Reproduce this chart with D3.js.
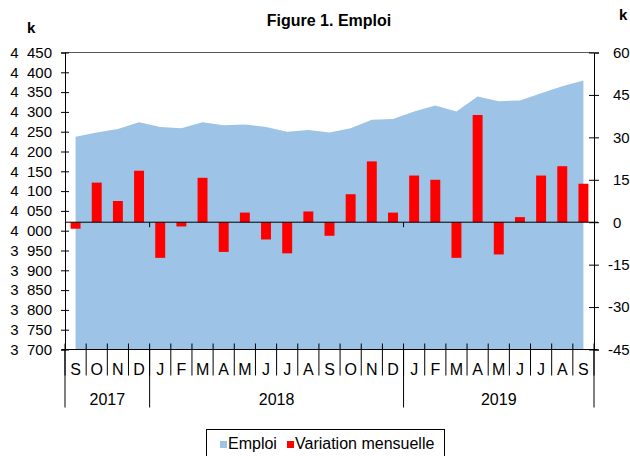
<!DOCTYPE html>
<html>
<head>
<meta charset="utf-8">
<script src="https://cdn.jsdelivr.net/npm/d3@7"></script>
<style>
    body { margin: 0; background: #fff; }
    svg text { font-family: "Liberation Sans", Arial, sans-serif; fill: #000; }
</style>
</head>
<body>
<script>
// monthly periods, Sep 2017 -> Sep 2019
var periods = ["2017-09", "2017-10", "2017-11", "2017-12",
    "2018-01", "2018-02", "2018-03", "2018-04", "2018-05", "2018-06",
    "2018-07", "2018-08", "2018-09", "2018-10", "2018-11", "2018-12",
    "2019-01", "2019-02", "2019-03", "2019-04", "2019-05", "2019-06",
    "2019-07", "2019-08", "2019-09"];
var monthLabels = ["S", "O", "N", "D", "J", "F", "M", "A", "M", "J", "J", "A",
    "S", "O", "N", "D", "J", "F", "M", "A", "M", "J", "J", "A", "S"];
var years = ["2017", "2018", "2019"];
var yearMonths = [4, 12, 9];

// employment level (k), left axis
var emploi = [4237, 4248, 4257, 4274, 4262, 4259, 4274, 4266, 4268, 4262, 4250, 4254,
    4248, 4259, 4280, 4282, 4301, 4316, 4301, 4339, 4327, 4329, 4347, 4365, 4379];
// monthly change (k), right axis
var variation = [-2.3, 14.0, 7.5, 18.2, -12.6, -1.5, 15.7, -10.5, 3.4, -6.1, -11.0, 3.8,
    -4.8, 9.9, 21.5, 3.4, 16.5, 15.0, -12.6, 37.9, -11.4, 1.8, 16.5, 19.8, 13.6];

var leftTicks = [3700, 3750, 3800, 3850, 3900, 3950, 4000, 4050, 4100, 4150, 4200, 4250, 4300, 4350, 4400, 4450];
var rightTicks = [-45, -30, -15, 0, 15, 30, 45, 60];

// plot box (window.top is reserved, so use other names)
var pl = 65, pr = 594, pt = 52.5, pb = 349.5;

var svg = d3.select("body").append("svg")
    .attr("width", 630)
    .attr("height", 456);

var x = d3.scaleBand().domain(periods).range([pl, pr]);
var yL = d3.scaleLinear().domain([3700, 4450]).range([pb, pt]);
var yR = d3.scaleLinear().domain([-45, 60]).range([pb, pt]);

// area for Emploi
var area = d3.area()
    .x(function (d, i) { return x(periods[i]) + x.bandwidth() / 2; })
    .y0(yL(3700))
    .y1(function (d) { return yL(d); });

svg.append("path")
    .datum(emploi)
    .attr("fill", "#9dc3e6")
    .attr("d", area);

// top border
svg.append("line")
    .attr("x1", pl).attr("x2", pr)
    .attr("y1", pt).attr("y2", pt)
    .attr("stroke", "#595959");

// bars for Variation mensuelle
var barW = x.bandwidth() * 0.47;
svg.selectAll("rect.bar")
    .data(variation)
    .enter().append("rect")
    .attr("class", "bar")
    .attr("x", function (d, i) { return x(periods[i]) + (x.bandwidth() - barW) / 2; })
    .attr("y", function (d) { return yR(Math.max(0, d)); })
    .attr("width", barW)
    .attr("height", function (d) { return Math.abs(yR(d) - yR(0)); })
    .attr("fill", "#ff0000");

// zero line of the right axis
svg.append("line")
    .attr("x1", pl).attr("x2", pr + 4)
    .attr("y1", yR(0)).attr("y2", yR(0))
    .attr("stroke", "#000");

// year boundaries (used for small ticks + bottom separators)
var bounds = [0];
yearMonths.forEach(function (n, i) { bounds.push(bounds[i] + n); });
var boundX = bounds.map(function (b) { return b < periods.length ? x(periods[b]) : pr; });

svg.selectAll("line.zt")
    .data(boundX.slice(1, -1))
    .enter().append("line")
    .attr("class", "zt")
    .attr("x1", function (d) { return d; }).attr("x2", function (d) { return d; })
    .attr("y1", yR(0)).attr("y2", yR(0) + 5)
    .attr("stroke", "#000");

// left axis
var fmt = function (d) { return d3.format(",")(d).replace(",", "\u2007"); };
var gL = svg.append("g")
    .attr("transform", "translate(" + pl + ",0)")
    .call(d3.axisLeft(yL).tickValues(leftTicks).tickFormat(fmt).tickSize(4).tickPadding(9));
gL.selectAll(".tick line").attr("x1", 4);
gL.selectAll("text").style("font-size", "15px");

// right axis (plain hyphen for negatives, hung left of the digits)
var gR = svg.append("g")
    .attr("transform", "translate(" + pr + ",0)")
    .call(d3.axisRight(yR).tickValues(rightTicks)
        .tickFormat(function (d) { return String(d); })
        .tickSize(5).tickPadding(14));
gR.selectAll(".tick line").attr("x1", -5);
gR.selectAll("text")
    .style("font-size", "15px")
    .attr("dx", function (d) { return d < 0 ? -5 : 0; });

svg.selectAll(".domain").attr("stroke", "#000");
svg.selectAll(".tick line").attr("stroke", "#000");

// bottom category axis
var gB = svg.append("g")
    .attr("transform", "translate(0," + pb + ")");
gB.append("line")
    .attr("x1", pl - 3).attr("x2", pr + 3)
    .attr("stroke", "#000");

var allX = periods.map(function (p) { return x(p); }).concat([pr]);
gB.selectAll("line.up")
    .data(allX)
    .enter().append("line")
    .attr("class", "up")
    .attr("x1", function (d) { return d; }).attr("x2", function (d) { return d; })
    .attr("y1", -6).attr("y2", 26)
    .attr("stroke", "#000");

gB.selectAll("line.yr")
    .data(boundX)
    .enter().append("line")
    .attr("class", "yr")
    .attr("x1", function (d) { return d; }).attr("x2", function (d) { return d; })
    .attr("y1", 0).attr("y2", 58)
    .attr("stroke", "#000");

gB.selectAll("text.m")
    .data(monthLabels)
    .enter().append("text")
    .attr("class", "m")
    .attr("x", function (d, i) { return x(periods[i]) + x.bandwidth() / 2; })
    .attr("y", 25.5)
    .attr("text-anchor", "middle")
    .style("font-size", "16px")
    .text(function (d) { return d; });

gB.selectAll("text.y")
    .data(years)
    .enter().append("text")
    .attr("class", "y")
    .attr("x", function (d, i) { return (boundX[i] + boundX[i + 1]) / 2; })
    .attr("y", 55.5)
    .attr("text-anchor", "middle")
    .style("font-size", "16px")
    .text(function (d) { return d; });

// title and unit labels
svg.append("text")
    .attr("x", 329).attr("y", 26)
    .attr("text-anchor", "middle")
    .style("font-size", "16px").style("font-weight", "bold")
    .text("Figure 1. Emploi");
svg.append("text")
    .attr("x", 27).attr("y", 33)
    .style("font-size", "15px").style("font-weight", "bold")
    .text("k");
svg.append("text")
    .attr("x", 619).attr("y", 20)
    .style("font-size", "15px").style("font-weight", "bold")
    .text("k");

// legend
var leg = svg.append("g");
leg.append("rect")
    .attr("x", 206.5).attr("y", 429.5)
    .attr("width", 238).attr("height", 40)
    .attr("fill", "#fff").attr("stroke", "#000");
leg.append("rect")
    .attr("x", 220).attr("y", 441)
    .attr("width", 7).attr("height", 7)
    .attr("fill", "#9dc3e6");
leg.append("text")
    .attr("x", 228).attr("y", 448.5)
    .style("font-size", "16px")
    .text("Emploi");
leg.append("rect")
    .attr("x", 287).attr("y", 441)
    .attr("width", 7).attr("height", 7)
    .attr("fill", "#ff0000");
leg.append("text")
    .attr("x", 295).attr("y", 448.5)
    .style("font-size", "16px")
    .text("Variation mensuelle");
</script>
</body>
</html>
